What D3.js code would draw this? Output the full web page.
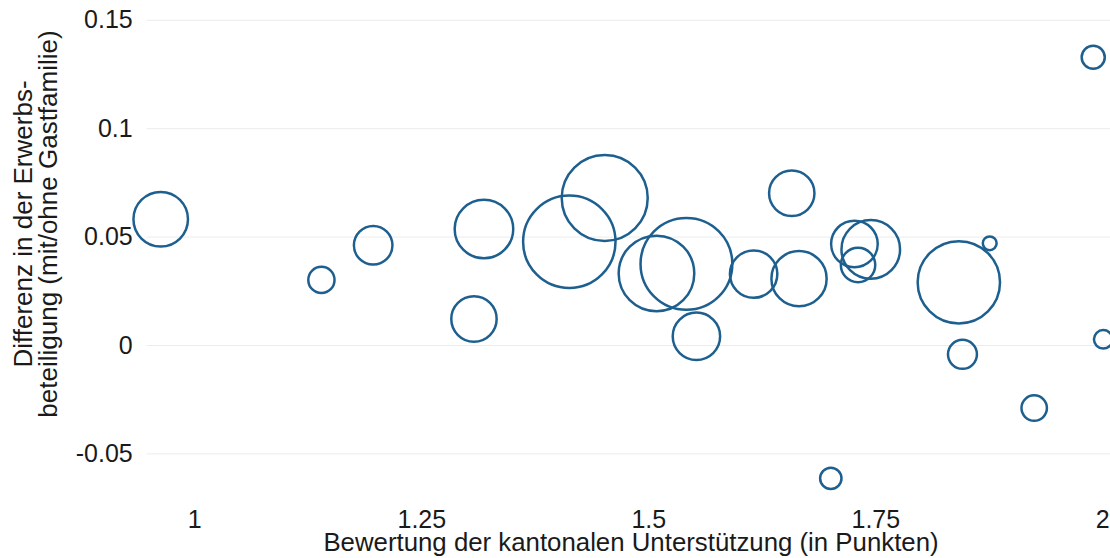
<!DOCTYPE html>
<html>
<head>
<meta charset="utf-8">
<script src="https://cdnjs.cloudflare.com/ajax/libs/d3/7.8.5/d3.min.js"></script>
<style>
  body { margin: 0; background: #fff; }
  text { font-family: "Liberation Sans", Arial, sans-serif; fill: #1a1a1a; }
</style>
</head>
<body>
<div id="scatter"></div>
<script>
// data
var support = [0.963, 1.140, 1.197, 1.308, 1.319, 1.413, 1.452, 1.509, 1.542, 1.553, 1.616, 1.658,
  1.666, 1.727, 1.731, 1.745, 1.842, 1.846, 1.876, 1.925, 1.990, 2.001, 1.701];
var diff = [0.058, 0.030, 0.046, 0.012, 0.0535, 0.0476, 0.0678, 0.033, 0.0374, 0.004, 0.0327, 0.070,
  0.0306, 0.0466, 0.0369, 0.0441, 0.0289, -0.0043, 0.0469, -0.0291, 0.1327, 0.0026, -0.0615];
// bubble weight (size variable)
var weight = [78, 18, 39, 54, 90, 224, 194, 150, 221, 59, 59, 54,
  80, 57, 31, 90, 178, 22, 5, 17, 14, 9, 12];

var xTicks = [1, 1.25, 1.5, 1.75, 2];
var yTicks = [-0.05, 0, 0.05, 0.1, 0.15];

var xTitle = "Bewertung der kantonalen Unterstützung (in Punkten)";
var yTitle = ["Differenz in der Erwerbs-", "beteiligung (mit/ohne Gastfamilie)"];

var points = support.map(function(d, i) {
  return { x: d, y: diff[i], w: weight[i] };
});

// SVG setup
var svgWidth = 1110;
var svgHeight = 558;
var gridLeft = 146.7;

var svg = d3.select("#scatter")
  .append("svg")
  .attr("width", svgWidth)
  .attr("height", svgHeight);

var xLinearScale = d3.scaleLinear().domain([1, 2]).range([194.3, 1102.3]);
var yLinearScale = d3.scaleLinear().domain([-0.05, 0.15]).range([453.4, 19.8]);
var rScale = d3.scaleSqrt().domain([0, d3.max(weight)]).range([0, 46.2]);

var fmt = function(d) { return String(d); };

// horizontal gridlines + y tick labels
var yAxis = d3.axisLeft(yLinearScale)
  .tickValues(yTicks)
  .tickFormat(fmt)
  .tickSize(-(svgWidth - gridLeft))
  .tickPadding(14);

var yAxisG = svg.append("g")
  .attr("transform", "translate(" + gridLeft + ",0)")
  .call(yAxis);
yAxisG.select(".domain").remove();
yAxisG.selectAll("line").attr("stroke", "#ececec").attr("stroke-width", 1);
yAxisG.selectAll("text")
  .attr("font-size", 25)
  .attr("fill", "#1a1a1a")
  .attr("font-family", "Liberation Sans, Arial, sans-serif");

// x tick labels, no line
var xAxis = d3.axisBottom(xLinearScale)
  .tickValues(xTicks)
  .tickFormat(fmt)
  .tickSize(0)
  .tickPadding(0);

var xAxisG = svg.append("g")
  .attr("transform", "translate(0,510)")
  .call(xAxis);
xAxisG.select(".domain").remove();
xAxisG.selectAll("text")
  .attr("font-size", 25)
  .attr("fill", "#1a1a1a")
  .attr("font-family", "Liberation Sans, Arial, sans-serif")
  .attr("dy", 0)
  .attr("y", 18);

// bubbles
svg.append("g")
  .selectAll("circle")
  .data(points)
  .enter()
  .append("circle")
  .attr("cx", d => xLinearScale(d.x))
  .attr("cy", d => yLinearScale(d.y))
  .attr("r", d => rScale(d.w))
  .attr("fill", "none")
  .attr("stroke", "#1d5f8e")
  .attr("stroke-width", 2.5);

// axis titles
svg.append("text")
  .attr("x", 631)
  .attr("y", 551)
  .attr("text-anchor", "middle")
  .attr("font-size", 25.8)
  .text(xTitle);

var yTitleG = svg.append("text")
  .attr("transform", "translate(0,224) rotate(-90)")
  .attr("text-anchor", "middle")
  .attr("font-size", 26);

yTitleG.selectAll("tspan")
  .data(yTitle)
  .enter()
  .append("tspan")
  .attr("x", 0)
  .attr("y", (d, i) => 32 + i * 25)
  .text(d => d);
</script>
</body>
</html>
